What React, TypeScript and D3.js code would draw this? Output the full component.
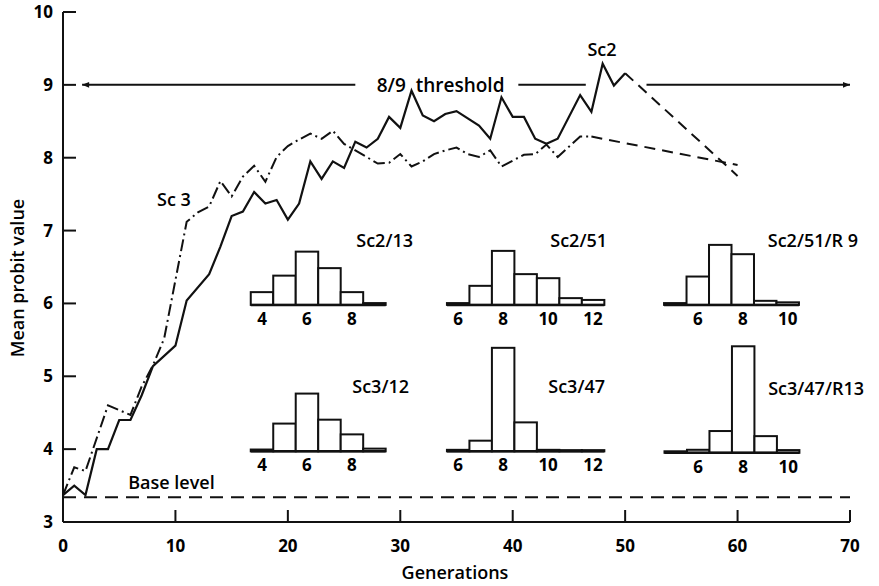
import React from "react";
import * as d3 from "d3";

// selection lines (mean probit value per generation)
const sc2Gens = [0, 1, 2, 3, 4, 5, 6, 7, 8, 10, 11, 13, 14, 15, 16, 17, 18, 19, 20, 21, 22, 23, 24, 25, 26, 27, 28, 29, 30, 31, 32, 33, 34, 35, 37, 38, 39, 40, 41, 42, 43, 44, 46, 47, 48, 49, 50];
const sc2Vals = [3.37, 3.5, 3.37, 4.0, 4.0, 4.4, 4.4, 4.74, 5.14, 5.42, 6.04, 6.4, 6.78, 7.2, 7.26, 7.53, 7.37, 7.42, 7.15, 7.37, 7.95, 7.71, 7.95, 7.86, 8.22, 8.14, 8.26, 8.56, 8.41, 8.92, 8.58, 8.5, 8.6, 8.64, 8.44, 8.26, 8.83, 8.56, 8.56, 8.26, 8.19, 8.26, 8.86, 8.63, 9.29, 8.99, 9.16];
const sc2TailGens = [50, 60];
const sc2TailVals = [9.16, 7.75];

const sc3Gens = [0, 1, 2, 4, 6, 7, 8, 9, 11, 12, 13, 14, 15, 16, 17, 18, 19, 20, 21, 22, 23, 24, 25, 26, 27, 28, 29, 30, 31, 32, 33, 34, 35, 36, 37, 38, 39, 40, 41, 42, 43, 44, 46, 47];
const sc3Vals = [3.37, 3.75, 3.7, 4.6, 4.47, 4.86, 5.15, 5.52, 7.12, 7.25, 7.33, 7.68, 7.47, 7.74, 7.89, 7.67, 8.01, 8.16, 8.25, 8.33, 8.26, 8.37, 8.19, 8.1, 8.01, 7.92, 7.93, 8.05, 7.88, 7.95, 8.05, 8.1, 8.14, 8.05, 8.01, 8.1, 7.88, 7.96, 8.04, 8.05, 8.18, 8.01, 8.29, 8.29];
const sc3TailGens = [47, 60];
const sc3TailVals = [8.29, 7.9];

const xTicks = [0, 10, 20, 30, 40, 50, 60, 70];
const yTicks = [3, 4, 5, 6, 7, 8, 9, 10];
const thresholdValue = 9;
const baseLevel = 3.34;

// inset histograms: bins, frequencies (%), tick labels
const sc2_13Bins = [4, 5, 6, 7, 8, 9];
const sc2_13Freq = [8.5, 19.5, 35.5, 24.5, 8.5, 1.2];
const sc2_13Ticks = [4, 6, 8];

const sc2_51Bins = [6, 7, 8, 9, 10, 11, 12];
const sc2_51Freq = [1.2, 12.7, 36, 20.5, 17.8, 4.5, 3.3];
const sc2_51Ticks = [6, 8, 10, 12];

const sc2_51R9Bins = [5, 6, 7, 8, 9, 10];
const sc2_51R9Freq = [1.2, 18.9, 40, 33.8, 2.7, 1.7];
const sc2_51R9Ticks = [6, 8, 10];

const sc3_12Bins = [4, 5, 6, 7, 8, 9];
const sc3_12Freq = [1.2, 18.5, 38.5, 21.1, 11.3, 1.8];
const sc3_12Ticks = [4, 6, 8];

const sc3_47Bins = [6, 7, 8, 9, 10, 11, 12];
const sc3_47Freq = [1, 7.1, 69, 19.3, 1, 0.8, 0.8];
const sc3_47Ticks = [6, 8, 10, 12];

const sc3_47R13Bins = [5, 6, 7, 8, 9, 10];
const sc3_47R13Freq = [1, 2, 14.5, 71, 11.1, 1.8];
const sc3_47R13Ticks = [6, 8, 10];

const W = 879;
const H = 586;
const FONT = "'Open Sans', 'DejaVu Sans', sans-serif";

const x = d3.scaleLinear().domain([0, 70]).range([63, 850]);
const y = d3.scaleLinear().domain([3, 10]).range([522, 12]);
const hScale = d3.scaleLinear().domain([0, 100]).range([0, 150]);

const toPts = (gs: number[], vs: number[]) => gs.map((g, i) => [g, vs[i]] as [number, number]);
const line = d3
  .line<[number, number]>()
  .x(d => x(d[0]))
  .y(d => y(d[1]));

function Histogram(props: {
  bins: number[];
  freq: number[];
  ticks: number[];
  title: string;
  left: number; // generation where the first bin starts
  base: number; // probit value of the baseline
  titleRight: number;
}) {
  const { bins, freq, ticks, title, left, base, titleRight } = props;
  const lo = bins[0];
  const hi = bins[bins.length - 1];
  const bx = d3
    .scaleLinear()
    .domain([lo - 0.5, hi + 0.5])
    .range([x(left), x(left + 2 * bins.length)]);
  const by = y(base);
  return (
    <g>
      {bins.map((b, i) => {
        const h = Math.max(hScale(freq[i]), 1);
        return (
          <rect
            key={b}
            x={bx(b - 0.5)}
            y={by - h}
            width={bx(b + 0.5) - bx(b - 0.5)}
            height={h}
            fill="#fff"
            stroke="#111"
            strokeWidth={2}
          />
        );
      })}
      <line x1={bx(lo - 0.5)} x2={bx(hi + 0.5)} y1={by} y2={by} stroke="#111" strokeWidth={2.5} />
      {ticks.map(t => (
        <text key={t} x={bx(t)} y={by + 20} textAnchor="middle" fontSize={17} fontWeight={700}>
          {t}
        </text>
      ))}
      <text x={titleRight} y={by - 58} textAnchor="end" fontSize={18} fontWeight={600}>
        {title}
      </text>
    </g>
  );
}

export default function App() {
  const ty = y(thresholdValue);
  return (
    <svg
      width={W}
      height={H}
      style={{ position: "absolute", left: 0, top: 0, background: "#fff", fontFamily: FONT }}
    >
      <defs>
        <marker id="arrR" viewBox="0 0 10 10" refX="10" refY="5" markerWidth="9" markerHeight="7" orient="auto" markerUnits="userSpaceOnUse">
          <path d="M0,1 L10,5 L0,9 z" fill="#111" />
        </marker>
        <marker id="arrL" viewBox="0 0 10 10" refX="0" refY="5" markerWidth="9" markerHeight="7" orient="auto" markerUnits="userSpaceOnUse">
          <path d="M10,1 L0,5 L10,9 z" fill="#111" />
        </marker>
      </defs>

      {/* axes */}
      <line x1={x(0)} x2={x(0)} y1={y(10)} y2={y(3)} stroke="#111" strokeWidth={2} />
      <line x1={x(0)} x2={x(70)} y1={y(3)} y2={y(3)} stroke="#111" strokeWidth={2} />
      {yTicks.slice(1).map(t => (
        <line key={t} x1={x(0)} x2={x(0) + 13} y1={y(t)} y2={y(t)} stroke="#111" strokeWidth={2} />
      ))}
      {xTicks.slice(1).map(t => (
        <line key={t} x1={x(t)} x2={x(t)} y1={y(3)} y2={y(3) - 12} stroke="#111" strokeWidth={2} />
      ))}
      {yTicks.map(t => (
        <text key={t} x={53} y={y(t) + 6} textAnchor="end" fontSize={17} fontWeight={700}>
          {t}
        </text>
      ))}
      {xTicks.map(t => (
        <text key={t} x={x(t)} y={552} textAnchor="middle" fontSize={17} fontWeight={700}>
          {t}
        </text>
      ))}
      <text x={455} y={579} textAnchor="middle" fontSize={18} fontWeight={600}>
        Generations
      </text>
      <text transform="translate(24,278) rotate(-90)" textAnchor="middle" fontSize={18} fontWeight={600}>
        Mean probit value
      </text>

      {/* 8/9 threshold */}
      <line x1={x(1.7)} x2={x(26)} y1={ty} y2={ty} stroke="#111" strokeWidth={2} markerStart="url(#arrL)" />
      <line x1={x(40.5)} x2={x(46.5)} y1={ty} y2={ty} stroke="#111" strokeWidth={2} />
      <line x1={x(51.9)} x2={x(70)} y1={ty} y2={ty} stroke="#111" strokeWidth={2} markerEnd="url(#arrR)" />
      <text x={x(27.9)} y={92} fontSize={19} fontWeight={600} style={{ whiteSpace: "pre" }}>
        {"8/9  threshold"}
      </text>

      {/* base level */}
      <line
        x1={x(0)}
        x2={x(70)}
        y1={y(baseLevel)}
        y2={y(baseLevel)}
        stroke="#111"
        strokeWidth={2}
        strokeDasharray="13 8"
      />
      <text x={x(5.8)} y={489} fontSize={18} fontWeight={600}>
        Base level
      </text>

      {/* selection lines */}
      <path d={line(toPts(sc3Gens, sc3Vals)) || ""} fill="none" stroke="#111" strokeWidth={2} strokeDasharray="12 4 2 4" />
      <path d={line(toPts(sc3TailGens, sc3TailVals)) || ""} fill="none" stroke="#111" strokeWidth={2} strokeDasharray="11 7" />
      <path d={line(toPts(sc2Gens, sc2Vals)) || ""} fill="none" stroke="#111" strokeWidth={2.2} strokeLinejoin="miter" />
      <path d={line(toPts(sc2TailGens, sc2TailVals)) || ""} fill="none" stroke="#111" strokeWidth={2} strokeDasharray="11 7" />

      <text x={157} y={206} fontSize={18} fontWeight={600} style={{ whiteSpace: "pre" }}>
        {"Sc 3"}
      </text>
      <text x={602} y={56} textAnchor="middle" fontSize={18} fontWeight={600}>
        Sc2
      </text>

      {/* insets */}
      <Histogram bins={sc2_13Bins} freq={sc2_13Freq} ticks={sc2_13Ticks} title="Sc2/13" left={16.7} base={5.98} titleRight={413} />
      <Histogram bins={sc2_51Bins} freq={sc2_51Freq} ticks={sc2_51Ticks} title="Sc2/51" left={34.15} base={5.98} titleRight={607} />
      <Histogram bins={sc2_51R9Bins} freq={sc2_51R9Freq} ticks={sc2_51R9Ticks} title="Sc2/51/R 9" left={53.46} base={5.98} titleRight={858} />
      <Histogram bins={sc3_12Bins} freq={sc3_12Freq} ticks={sc3_12Ticks} title="Sc3/12" left={16.7} base={3.97} titleRight={409} />
      <Histogram bins={sc3_47Bins} freq={sc3_47Freq} ticks={sc3_47Ticks} title="Sc3/47" left={34.15} base={3.97} titleRight={605} />
      <Histogram bins={sc3_47R13Bins} freq={sc3_47R13Freq} ticks={sc3_47R13Ticks} title="Sc3/47/R13" left={53.5} base={3.95} titleRight={864} />
    </svg>
  );
}
